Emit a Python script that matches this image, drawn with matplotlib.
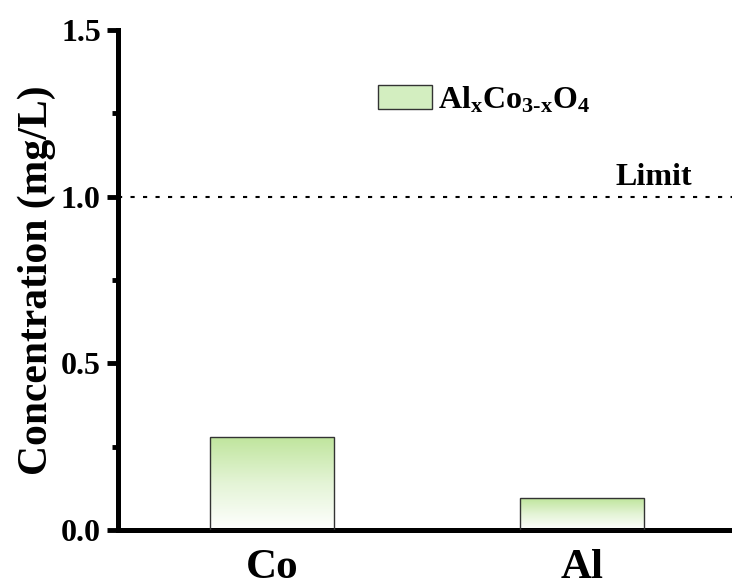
import matplotlib
matplotlib.use("Agg")
import matplotlib.pyplot as plt
import numpy as np
from matplotlib.colors import LinearSegmentedColormap
from matplotlib.patches import Rectangle

elements = ["Co", "Al"]
conc = [0.28, 0.096]
limit = 1.0
series_name = r"Al$_\mathbf{x}$Co$_\mathbf{3\text{-}x}$O$_\mathbf{4}$"

plt.rcParams['font.family'] = ['Liberation Serif', 'DejaVu Serif']
plt.rcParams['font.weight'] = 'bold'
plt.rcParams['mathtext.fontset'] = 'custom'
plt.rcParams['mathtext.rm'] = 'Liberation Serif:bold'
plt.rcParams['mathtext.bf'] = 'Liberation Serif:bold'
plt.rcParams['mathtext.it'] = 'Liberation Serif:bold'

green = "#bfe59c"
cmap = LinearSegmentedColormap.from_list("g", [(0, "white"), (0.5, "#e4f4d6"), (1, green)])

fig = plt.figure(figsize=(7.32, 5.86), dpi=100)
ax = fig.add_axes([117.5/732, 1-530/586, (737-117.5)/732, 500/586])

x = np.arange(len(elements))
bars = ax.bar(x, conc, width=0.4, color="none", edgecolor="#333333", linewidth=1.0, zorder=3)
grad = np.linspace(0, 1, 256).reshape(-1, 1)
for b in bars:
    x0, y0 = b.get_x(), b.get_y()
    w, h = b.get_width(), b.get_height()
    im = ax.imshow(grad, cmap=cmap, extent=[x0, x0 + w, y0, y0 + h], origin="lower",
                   aspect="auto", zorder=2)
    im.set_clip_path(b)

ax.axhline(limit, color="black", linestyle=(0, (2, 4)), linewidth=1.5, zorder=1)
ax.text(1.355, limit + 0.015, "Limit", ha="right", va="bottom", fontsize=23, fontweight="bold")

ax.set_xlim(-0.5, 1.5)
ax.set_ylim(0, 1.5)
ax.set_xticks(x)
ax.set_xticklabels(elements, fontsize=31, fontweight="bold")
ax.set_yticks([0, 0.5, 1.0, 1.5])
ax.set_yticklabels(["0.0", "0.5", "1.0", "1.5"], fontsize=23, fontweight="bold")
ax.set_yticks([0.25, 0.75, 1.25], minor=True)
ax.tick_params(axis="y", which="major", direction="out", length=8, width=3.5, pad=4)
ax.tick_params(axis="y", which="minor", direction="out", length=4.5, width=3.5)
ax.tick_params(axis="x", length=0, pad=14)
ax.set_ylabel("Concentration (mg/L)", fontsize=30, fontweight="bold")
ax.yaxis.set_label_coords(-0.1, 0.5)

for s in ["top", "right"]:
    ax.spines[s].set_visible(False)
for s in ["left", "bottom"]:
    ax.spines[s].set_linewidth(3.6)

handle = Rectangle((0, 0), 1, 1, facecolor="#d3eec0", edgecolor="#333333", linewidth=1.0)
ax.legend([handle], [series_name], loc="center left", bbox_to_anchor=(0.42, 0.86),
          frameon=False, fontsize=23, handlelength=1.7, handleheight=0.75, handletextpad=0.2,
          borderaxespad=0, borderpad=0)

fig.savefig("out.png", dpi=100)
